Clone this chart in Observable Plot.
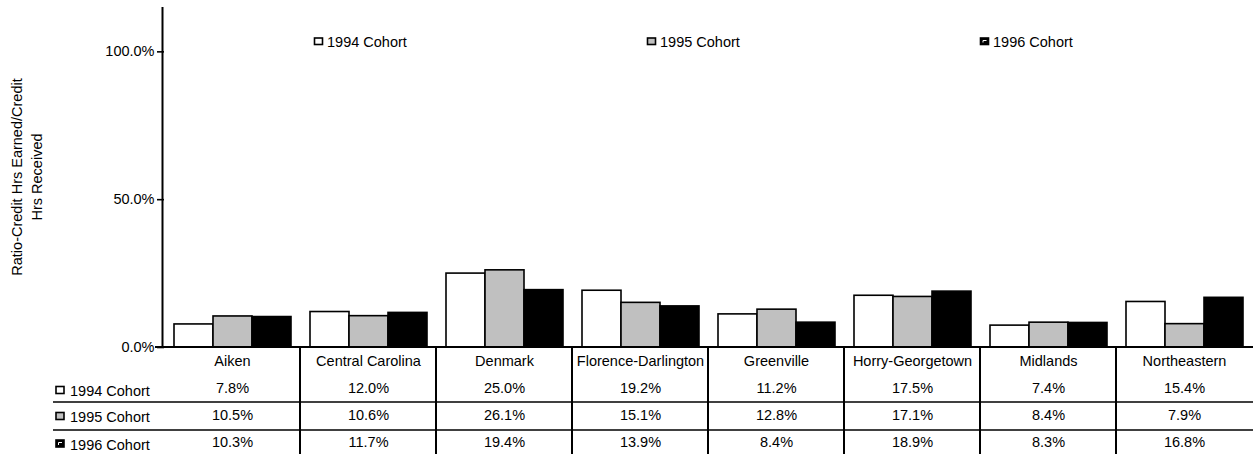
<!DOCTYPE html>
<html><head><meta charset="utf-8">
<script src="https://cdn.jsdelivr.net/npm/d3@7"></script>
<script src="https://cdn.jsdelivr.net/npm/@observablehq/plot@0.6"></script>
<style>
html,body{margin:0;padding:0;background:#fff;overflow:hidden}
svg{display:block}
</style></head><body><div id="chart"></div>
<script>
const colleges = ["Aiken","Central Carolina","Denmark","Florence-Darlington","Greenville","Horry-Georgetown","Midlands","Northeastern"];
const cohorts = ["1994 Cohort","1995 Cohort","1996 Cohort"];
const v1994 = [7.8,12.0,25.0,19.2,11.2,17.5,7.4,15.4];
const v1995 = [10.5,10.6,26.1,15.1,12.8,17.1,8.4,7.9];
const v1996 = [10.3,11.7,19.4,13.9,8.4,18.9,8.3,16.8];
const colors = ["#ffffff","#c0c0c0","#000000"];
const yTicks = [0, 50, 100];
const yTitle = ["Ratio-Credit Hrs Earned/Credit","Hrs Received"];

const series = [v1994, v1995, v1996];
const data = colleges.flatMap((c,i)=> cohorts.map((k,j)=>({college:c, cohort:k, value: series[j][i]})));
const fmt = v => v.toFixed(1) + "%";

const W = 1253, H = 454, ML = 162, MT = 7, MB = 107, MR = 0;
const font = "'Liberation Sans', Arial, sans-serif";
const FS = 14.5;

const plot = Plot.plot({
  width: W, height: H, marginLeft: ML, marginRight: MR, marginTop: MT, marginBottom: MB,
  style: {fontFamily: font, fontSize: FS + "px", color: "#000", background: "#fff", overflow: "visible"},
  fx: {domain: colleges, padding: 0, axis: null},
  x: {domain: cohorts, paddingInner: 0, paddingOuter: 0.22, axis: null},
  y: {domain: [0, 115], ticks: yTicks, tickFormat: fmt, label: null, tickSize: 7, tickPadding: 3},
  color: {domain: cohorts, range: colors},
  marks: [
    Plot.barY(data, {fx: "college", x: "cohort", y: "value", fill: "cohort", stroke: "#000", strokeWidth: 1.6}),
    Plot.text(colleges, {fx: d => d, frameAnchor: "bottom", lineAnchor: "middle", dy: 14, text: d => d}),
    ...cohorts.map((k, j) => Plot.text(data.filter(d => d.cohort === k),
      {fx: "college", frameAnchor: "bottom", lineAnchor: "middle", dy: [41, 68, 95][j], text: d => fmt(d.value)}))
  ]
});
document.getElementById("chart").appendChild(plot);

const svg = d3.select(plot);
svg.selectAll("g[aria-label='y-axis tick'] path, g[aria-label='y-axis tick'] line").attr("stroke-width", 1.6);
const fx = plot.scale("fx");
const y = plot.scale("y");
const y0 = y.apply(0), yTop = y.apply(115);
const g = svg.append("g").attr("stroke", "#000").attr("fill", "none");
// axes
g.append("line").attr("x1", ML + 0.5).attr("x2", ML + 0.5).attr("y1", yTop).attr("y2", y0).attr("stroke-width", 2);
g.append("line").attr("x1", ML - 7).attr("x2", W).attr("y1", y0).attr("y2", y0).attr("stroke-width", 2);
// table grid
const rowLines = [402, 430];
rowLines.forEach(yy => g.append("line").attr("x1", 53).attr("x2", W).attr("y1", yy).attr("y2", yy).attr("stroke-width", 1.4));
colleges.slice(1).forEach(c => {
  const xx = fx.apply(c);
  g.append("line").attr("x1", xx).attr("x2", xx).attr("y1", y0).attr("y2", H).attr("stroke-width", 2);
});
// markers + labels
function marker(sel, x, yy, w, h, j) {
  sel.append("rect").attr("x", x).attr("y", yy).attr("width", w).attr("height", h)
    .attr("fill", colors[j]).attr("stroke", "#000").attr("stroke-width", 1.6);
  if (j === 2) {
    sel.append("path").attr("d", `M${x+2.5},${yy+h-2}V${yy+2.5}H${x+w-2}`)
      .attr("stroke", "#fff").attr("stroke-width", 1).attr("fill", "none");
  }
}
const t = svg.append("g").attr("font-family", font).attr("font-size", FS + "px").attr("fill", "#000").attr("text-anchor", "start");
const rowY = [391, 417, 444.5];
cohorts.forEach((k, j) => {
  marker(t, 56, rowY[j] - 4.5, 8, 7, j);
  t.append("text").attr("x", 70).attr("y", rowY[j]).attr("dy", "0.35em").text(k);
});
const legX = [314, 647, 980];
cohorts.forEach((k, j) => {
  marker(t, legX[j] + 0.5, 38, 8, 6.5, j);
  t.append("text").attr("x", legX[j] + 13).attr("y", 42).attr("dy", "0.35em").text(k);
});
// y title
const yt = t.append("text").attr("transform", `translate(17,${(yTop + y0) / 2}) rotate(-90)`).attr("text-anchor", "middle");
yTitle.forEach((s, i) => yt.append("tspan").attr("x", 0).attr("y", i * 20).attr("dy", "0.35em").text(s));
</script></body></html>
